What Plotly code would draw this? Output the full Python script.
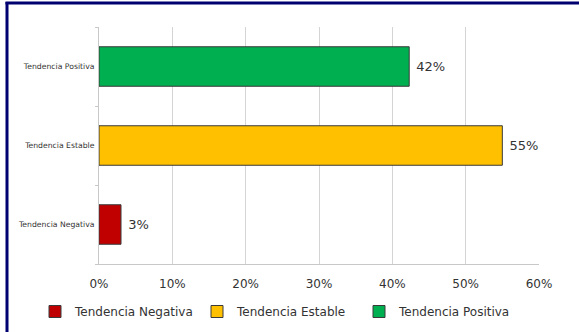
import plotly.graph_objects as go

categories = ["Tendencia Negativa", "Tendencia Estable", "Tendencia Positiva"]
values = [0.03, 0.55, 0.423]
colors = ["#C00000", "#FFC000", "#00B050"]
tick_vals = [0, 0.1, 0.2, 0.3, 0.4, 0.5, 0.6]
tick_text = ["0%", "10%", "20%", "30%", "40%", "50%", "60%"]

W, H = 579, 332
L, R, T, B = 99, 40, 27, 68
pw, ph = W - L - R, H - T - B

fig = go.Figure()
for cat, val, col in zip(categories, values, colors):
    fig.add_trace(go.Bar(
        y=[cat], x=[val], orientation="h", name=cat,
        marker=dict(color=col, line=dict(color="#3a3a3a", width=1)),
        text=[f" {round(val*100)}%"], textposition="outside",
        textfont=dict(size=13, color="#333333", family="DejaVu Sans"),
        cliponaxis=False, width=0.5,
    ))

def px2x(px):
    return (px - L) / pw

def py2y(py):
    return (H - B - py) / ph

fig.update_layout(
    width=W, height=H,
    margin=dict(l=L, r=R, t=T, b=B, autoexpand=False),
    paper_bgcolor="white", plot_bgcolor="white",
    barmode="overlay",
    font=dict(family="DejaVu Sans", color="#333333"),
    xaxis=dict(range=[0, 0.6], tickvals=tick_vals, ticktext=tick_text,
               showgrid=True, gridcolor="#d4d4d4", gridwidth=1,
               showline=True, linecolor="#c8c8c8", linewidth=1,
               zeroline=False, tickfont=dict(size=12), ticks="", ticklen=0,
               ticklabelstandoff=9, automargin=False),
    yaxis=dict(categoryorder="array", categoryarray=categories,
               showline=True, linecolor="#c8c8c8", linewidth=1,
               tickfont=dict(size=7.7), ticks="outside", tickson="boundaries",
               ticklen=3, tickcolor="#c8c8c8", showgrid=False,
               ticklabelstandoff=2,
               range=[-0.5, 2.5], automargin=False),
    legend=dict(orientation="h", xref="paper", yref="paper",
                x=px2x(35), xanchor="left", y=py2y(297), yanchor="top",
                font=dict(size=12), traceorder="normal", itemwidth=30,
                entrywidth=117, tracegroupgap=0),
    showlegend=True,
    shapes=[
        dict(type="line", xref="paper", yref="paper",
             x0=px2x(7), x1=px2x(7), y0=py2y(2), y1=py2y(H + 2),
             line=dict(color="#000070", width=3)),
        dict(type="line", xref="paper", yref="paper",
             x0=px2x(5.5), x1=px2x(W + 2), y0=py2y(3), y1=py2y(3),
             line=dict(color="#000070", width=3)),
    ],
)

fig.write_html("out.html", config={"displayModeBar": False},
               post_script="document.body.style.margin='0px';")
